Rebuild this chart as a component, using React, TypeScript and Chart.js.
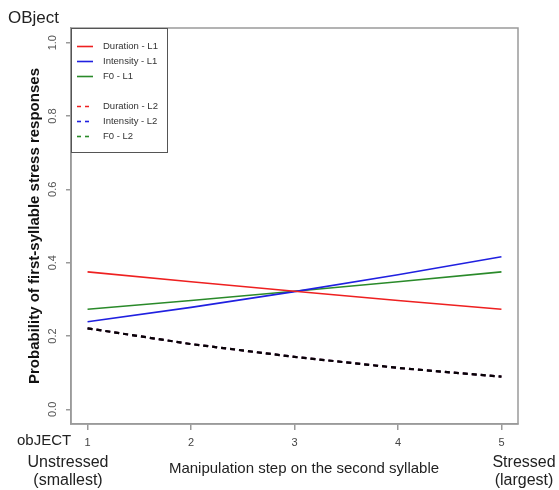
import React, { useEffect, useRef } from "react";
import { Chart, registerables } from "chart.js";

Chart.register(...registerables);

// ---- data ----
const steps = [1, 2, 3, 4, 5];
const yTickValues = [0, 0.2, 0.4, 0.6, 0.8, 1.0];
const seriesLabels = [
  "Duration - L1",
  "Intensity - L1",
  "F0 - L1",
  "Duration - L2",
  "Intensity - L2",
  "F0 - L2",
];
const durationL1 = [0.375, 0.348, 0.322, 0.297, 0.273];
const intensityL1 = [0.239, 0.278, 0.321, 0.367, 0.416];
const f0L1 = [0.273, 0.297, 0.322, 0.348, 0.375];
const durationL2 = [0.221, 0.178, 0.143, 0.113, 0.089];
const intensityL2 = [0.221, 0.178, 0.143, 0.113, 0.089];
const f0L2 = [0.221, 0.178, 0.143, 0.113, 0.089];

const yTitle = "Probability of first-syllable stress responses";
const xTitle = "Manipulation step on the second syllable";
const topLabel = "OBject";
const bottomLabel = "obJECT";
const leftEnd = ["Unstressed", "(smallest)"];
const rightEnd = ["Stressed", "(largest)"];

const RED = "#ee2020";
const BLUE = "#2020e0";
const GREEN = "#2a8a2a";
const AXIS = "#9a9a9a";
const FONT = "'Liberation Sans', Arial, sans-serif";

const seriesValues = [durationL1, intensityL1, f0L1, durationL2, intensityL2, f0L2];
const seriesColors = [RED, BLUE, GREEN, RED, BLUE, GREEN];

function makeDatasets() {
  return seriesValues.map((vals, i) => {
    const dashed = i >= 3;
    return {
      label: seriesLabels[i],
      data: steps.map((s, j) => ({ x: s, y: vals[j] })),
      borderColor: seriesColors[i],
      backgroundColor: seriesColors[i],
      borderWidth: dashed ? 2.2 : 1.6,
      borderDash: dashed ? [5, 4] : [],
      pointRadius: 0,
      tension: 0,
      fill: false,
    };
  });
}

const multiplyPlugin = {
  id: "multiplyDashed",
  beforeDatasetDraw(chart: any, args: any) {
    const ds = chart.data.datasets[args.index];
    if (ds.borderDash && ds.borderDash.length) {
      chart.ctx.save();
      chart.ctx.globalCompositeOperation = "multiply";
      (ds as any)._mult = true;
    }
  },
  afterDatasetDraw(chart: any, args: any) {
    const ds = chart.data.datasets[args.index];
    if ((ds as any)._mult) {
      chart.ctx.restore();
      (ds as any)._mult = false;
    }
  },
};

const decorPlugin = {
  id: "decor",
  afterDraw(chart: any) {
    const ctx: CanvasRenderingContext2D = chart.ctx;
    const ca = chart.chartArea;
    const yScale = chart.scales.y;
    ctx.save();

    // box
    ctx.strokeStyle = AXIS;
    ctx.lineWidth = 1.5;
    ctx.strokeRect(ca.left, ca.top, ca.right - ca.left, ca.bottom - ca.top);

    // rotated y tick labels
    ctx.fillStyle = "#555";
    ctx.font = `11px ${FONT}`;
    ctx.textAlign = "center";
    ctx.textBaseline = "middle";
    yTickValues.forEach((v) => {
      const y = yScale.getPixelForValue(v);
      ctx.save();
      ctx.translate(53, y);
      ctx.rotate(-Math.PI / 2);
      ctx.fillText(v.toFixed(1), 0, 0);
      ctx.restore();
    });

    // y title
    ctx.save();
    ctx.fillStyle = "#111";
    ctx.font = `bold 15px ${FONT}`;
    ctx.translate(35, (ca.top + ca.bottom) / 2);
    ctx.rotate(-Math.PI / 2);
    ctx.fillText(yTitle, 0, 0);
    ctx.restore();

    // texts around
    ctx.fillStyle = "#222";
    ctx.textAlign = "left";
    ctx.font = `17px ${FONT}`;
    ctx.fillText(topLabel, 8, 18);
    ctx.font = `15px ${FONT}`;
    ctx.fillText(bottomLabel, 17, 441);

    ctx.textAlign = "center";
    ctx.font = `16px ${FONT}`;
    ctx.fillText(leftEnd[0], 68, 463);
    ctx.fillText(leftEnd[1], 68, 481);
    ctx.fillText(rightEnd[0], 524, 463);
    ctx.fillText(rightEnd[1], 524, 481);
    ctx.font = `15px ${FONT}`;
    ctx.fillText(xTitle, 304, 469);

    // legend
    const lx = ca.left;
    const ly = ca.top;
    ctx.strokeStyle = "#555";
    ctx.lineWidth = 1;
    ctx.strokeRect(lx + 0.5, ly + 0.5, 96, 124);
    ctx.font = `9.5px ${FONT}`;
    ctx.textAlign = "left";
    chart.data.datasets.forEach((ds: any, i: number) => {
      const y = ly + 18.5 + i * 15 + (i >= 3 ? 15 : 0);
      ctx.save();
      ctx.strokeStyle = ds.borderColor;
      ctx.lineWidth = 1.6;
      ctx.setLineDash(ds.borderDash && ds.borderDash.length ? [4, 4] : []);
      ctx.beginPath();
      ctx.moveTo(lx + 6, y);
      ctx.lineTo(lx + 22, y);
      ctx.stroke();
      ctx.restore();
      ctx.fillStyle = "#333";
      ctx.fillText(ds.label, lx + 32, y);
    });

    ctx.restore();
  },
};

export default function App() {
  const ref = useRef<HTMLCanvasElement>(null);
  useEffect(() => {
    if (!ref.current) return;
    const chart = new Chart(ref.current, {
      type: "line",
      data: { datasets: makeDatasets() as any },
      options: {
        animation: false,
        responsive: false,
        devicePixelRatio: 1,
        layout: { padding: { top: 28, right: 41, left: 0, bottom: 0 } },
        plugins: {
          legend: { display: false },
          tooltip: { enabled: false },
          title: { display: false },
        },
        scales: {
          x: {
            type: "linear",
            min: 0.84,
            max: 5.16,
            afterBuildTicks: (scale: any) => {
              scale.ticks = steps.map((v) => ({ value: v }));
            },
            afterFit: (scale: any) => {
              scale.height = 66;
            },
            ticks: {
              color: "#444",
              font: { size: 11, family: FONT },
              padding: 6,
              maxRotation: 0,
              callback: (v: any) => String(v),
            },
            grid: {
              drawOnChartArea: false,
              drawTicks: true,
              tickLength: 6,
              color: AXIS,
              lineWidth: 1.5,
            },
            border: { display: true, color: AXIS, width: 1.5 },
          },
          y: {
            type: "linear",
            min: -0.04,
            max: 1.04,
            afterBuildTicks: (scale: any) => {
              scale.ticks = yTickValues.map((v) => ({ value: v }));
            },
            afterFit: (scale: any) => {
              scale.width = 71;
            },
            ticks: { display: false },
            grid: {
              drawOnChartArea: false,
              drawTicks: true,
              tickLength: 5,
              color: AXIS,
              lineWidth: 1.5,
            },
            border: { display: true, color: AXIS, width: 1.5 },
          },
        },
      },
      plugins: [multiplyPlugin, decorPlugin],
    });
    return () => chart.destroy();
  }, []);

  return (
    <div
      style={{
        position: "fixed",
        left: 0,
        top: 0,
        width: 559,
        height: 490,
        background: "#fff",
      }}
    >
      <canvas
        ref={ref}
        width={559}
        height={490}
        style={{ display: "block", width: 559, height: 490 }}
      />
    </div>
  );
}
